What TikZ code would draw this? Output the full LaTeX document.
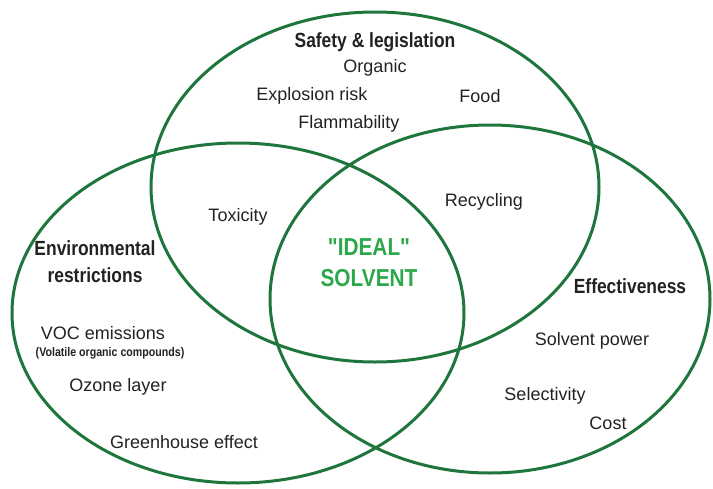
\documentclass[tikz,border=0pt]{standalone}
\usepackage{fontspec}
\setmainfont{Liberation Sans}
\newfontfamily\headfont[FakeStretch=0.85]{Liberation Sans Bold}
\usetikzlibrary{positioning}

\definecolor{ringgreen}{RGB}{30,118,60}
\definecolor{idealgreen}{RGB}{44,168,74}
\definecolor{inkgray}{RGB}{34,34,34}

\begin{document}
\begin{tikzpicture}[x=1pt,y=-1pt,
                    ring/.style={draw=ringgreen,line width=3pt},
                    word/.style={text=inkgray,inner sep=0pt,font=\fontsize{18}{20}\selectfont},
                    head/.style={text=inkgray,inner sep=0pt,align=center,
                                 font=\headfont\fontsize{20.5}{27}\selectfont},
                    ideal/.style={text=idealgreen,inner sep=0pt,align=center,
                                  font=\headfont\fontsize{24.5}{31}\selectfont}]

  	\useasboundingbox (0,0) rectangle (713,488);

	% the three sets
  	\draw[ring] (375,187) ellipse [x radius=224, y radius=175];
	\draw[ring] (238,313) ellipse [x radius=226, y radius=170];
	\draw[ring] (490,299) ellipse [x radius=220, y radius=174];

	% set titles
  	\node[head](S) at (375,42)  			{Safety \& legislation};
	\node[head](E) at (95,262)  			{Environmental\\restrictions};
	\node[head](F) at (630,286) 			{Effectiveness};

	% safety & legislation
  	\node[word](organic) at (375,68)  		{Organic};
	\node[word](explo)   at (312,96)  		{Explosion risk};
	\node[word](food)    at (480,96)  		{Food};
	\node[word](flamm)   at (349,124) 		{Flammability};

	% overlaps
  	\node[word](tox)     at (238,217) 		{Toxicity};
	\node[word](recyc)   at (484,202) 		{Recycling};
	\node[ideal](ideal)  at (369,263) 		{"IDEAL"\\SOLVENT};

	% environmental restrictions
  	\node[word](voc)     at (103,333) 		{VOC emissions};
	\node[inner sep=0pt,text=inkgray,font=\headfont\fontsize{12.5}{13}\selectfont]
	     (voc2) at (110,353) 			{(Volatile organic compounds)};
	\node[word](ozone)   at (118,387) 		{Ozone layer};
	\node[word](green)   at (184,442) 		{Greenhouse effect};

	% effectiveness
  	\node[word](power)   at (592,341) 		{Solvent power};
	\node[word](select)  at (545,396) 		{Selectivity};
	\node[word](cost)    at (608,423) 		{Cost};

\end{tikzpicture}
\end{document}
